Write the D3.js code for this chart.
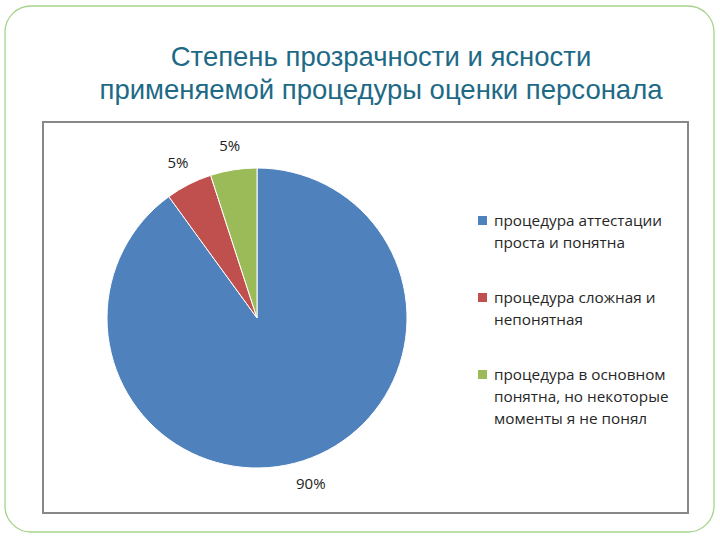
<!DOCTYPE html>
<html><head><meta charset="utf-8">
<script src="https://cdn.jsdelivr.net/npm/d3@7"></script>
<style>html,body{margin:0;padding:0;background:#fff;}</style>
</head><body>
<script>
const titleLines = ["Степень прозрачности и ясности", "применяемой процедуры оценки персонала"];
const categories = [
  ["процедура аттестации", "проста и понятна"],
  ["процедура сложная и", "непонятная"],
  ["процедура в основном", "понятна, но некоторые", "моменты я не понял"]
];
const values = [90, 5, 5];
const valueLabels = ["90%", "5%", "5%"];
const colors = ["#4F81BD", "#C0504D", "#9BBB59"];

const W = 720, H = 540;
const svg = d3.select("body").append("svg").attr("width", W).attr("height", H);

svg.append("rect").attr("x", 5).attr("y", 6).attr("width", 709).attr("height", 526)
  .attr("rx", 26).attr("ry", 26).attr("fill", "#fff").attr("stroke", "#A6D38C").attr("stroke-width", 1.3);

svg.append("g").selectAll("text").data(titleLines).join("text")
  .attr("x", 381).attr("y", (d, i) => 66 + i * 33)
  .attr("text-anchor", "middle")
  .attr("font-family", "Liberation Sans, Arial, sans-serif")
  .attr("font-size", 27.5).attr("fill", "#1E6A86").text(d => d);

svg.append("rect").attr("x", 43).attr("y", 122).attr("width", 645).attr("height", 391)
  .attr("fill", "#fff").attr("stroke", "#888", ).attr("stroke-width", 2);

const cx = 257, cy = 318, R = 150;
const pie = d3.pie().sort(null).value(d => d)(values);
const arc = d3.arc().innerRadius(0).outerRadius(R);
const g = svg.append("g").attr("transform", `translate(${cx},${cy})`);
g.selectAll("path").data(pie).join("path")
  .attr("d", arc).attr("fill", (d, i) => colors[i])
  .attr("stroke", "#fff").attr("stroke-width", 1);

const labelArc = d3.arc().innerRadius(R + 24).outerRadius(R + 24);
g.selectAll("text").data(pie).join("text")
  .attr("transform", d => { const c = labelArc.centroid(d); return `translate(${c[0]},${c[1]})`; })
  .attr("text-anchor", "middle").attr("dy", "0.35em")
  .attr("font-family", "Open Sans, sans-serif").attr("font-size", 15).attr("fill", "#222")
  .text((d, i) => valueLabels[i]);

const legendY = [226, 303, 380];
const lg = svg.append("g");
categories.forEach((lines, i) => {
  lg.append("rect").attr("x", 478).attr("y", legendY[i] - 10).attr("width", 9).attr("height", 9).attr("fill", colors[i]);
  lines.forEach((t, j) => {
    lg.append("text").attr("x", 494).attr("y", legendY[i] + j * 22)
      .attr("font-family", "Open Sans, sans-serif").attr("font-size", 15.3).attr("fill", "#262626").text(t);
  });
});
</script>
</body></html>
